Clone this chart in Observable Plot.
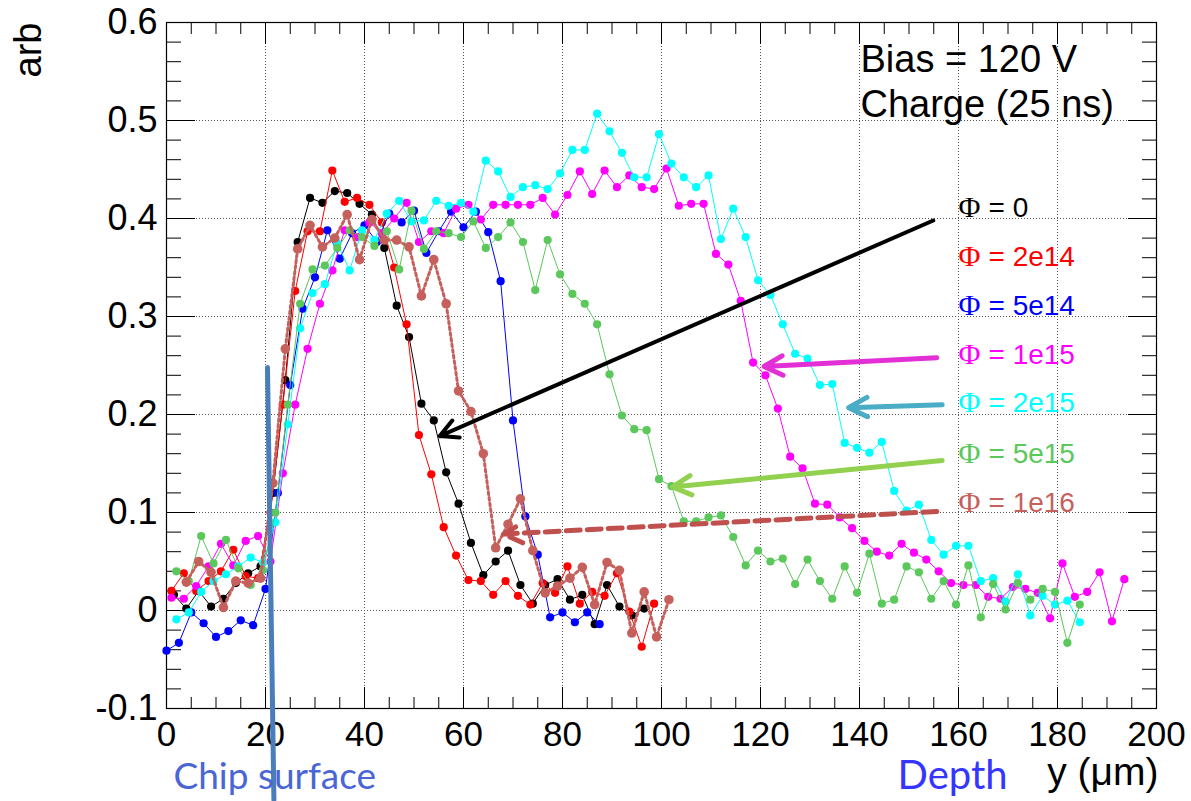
<!DOCTYPE html>
<html>
<head>
<meta charset="utf-8">
<script src="https://cdn.jsdelivr.net/npm/d3@7"></script>
<script src="https://cdn.jsdelivr.net/npm/@observablehq/plot@0.6"></script>
<style>
  body { margin: 0; background: #fff; }
  svg { display: block; }
</style>
</head>
<body>
<div id="chart"></div>
<script>
// Charge profiles vs depth, one list of [depth (µm), charge (arb)] per fluence
const phi0 = [[1.5,0.016],[4,0.002],[6.5,0.020],[9,0.004],[11.5,0.012],[14,0.028],[16.5,0.038],[19,0.045],[21.5,0.12],[24,0.235],[26.5,0.376],[29,0.421],[31.5,0.416],[34,0.428],[36.5,0.426],[39,0.415],[41.5,0.404],[44,0.37],[46.5,0.311],[49,0.279],[51.5,0.211],[54,0.194],[56.5,0.141],[59,0.109],[61.5,0.069],[64,0.036],[66.5,0.050],[69,0.061],[71.5,0.026],[74,0.007],[76.5,0.026],[79,0.032],[81.5,0.011],[84,0.016],[86.5,-0.014],[89,0.026],[91.5,0.004],[94,-0.005],[96.5,0.002]];

const phi2e14 = [[1,0.020],[3.5,0.038],[6,0.020],[8.5,0.030],[11,0.040],[13.5,0.062],[16,0.035],[18.5,0.033],[21,0.10],[23.5,0.21],[26,0.326],[28.5,0.387],[31,0.387],[33.5,0.449],[36,0.417],[38.5,0.421],[41,0.414],[43.5,0.396],[46,0.350],[48.5,0.292],[51,0.179],[53.5,0.139],[56,0.085],[58.5,0.056],[61,0.031],[63.5,0.030],[66,0.016],[68.5,0.030],[71,0.015],[73.5,0.006],[76,0.028],[78.5,0.018],[81,0.045],[83.5,0.007],[86,0.019],[88.5,0.015],[91,0.038],[93.5,-0.001],[96,-0.037],[98.5,0.007]];

const phi5e14 = [[0,-0.041],[2.5,-0.033],[5,-0.002],[7.5,-0.013],[10,-0.027],[12.5,-0.021],[15,-0.010],[17.5,-0.015],[20,0.022],[22.5,0.12],[25,0.23],[27.5,0.308],[30,0.340],[32.5,0.388],[35,0.359],[37.5,0.385],[40,0.393],[42.5,0.376],[45,0.405],[47.5,0.396],[50,0.408],[52.5,0.365],[55,0.387],[57.5,0.407],[60,0.391],[62.5,0.407],[65,0.386],[67.5,0.336],[70,0.194],[72.5,0.096],[75,0.057],[77.5,-0.007],[80,-0.002],[82.5,-0.012],[85,-0.002],[87.5,-0.014]];

const phi1e15 = [[1,0.013],[3.5,0.012],[6,0.025],[8.5,0.045],[11,0.068],[13.5,0.046],[16,0.071],[18.5,0.076],[21,0.050],[23.5,0.14],[26,0.21],[28.5,0.267],[31,0.313],[33.5,0.347],[36,0.388],[38.5,0.381],[41,0.396],[43.5,0.385],[46,0.40],[48.5,0.416],[51,0.376],[53.5,0.387],[56,0.385],[58.5,0.410],[61,0.414],[63.5,0.399],[66,0.414],[68.5,0.414],[71,0.414],[73.5,0.414],[76,0.421],[78.5,0.404],[81,0.424],[83.5,0.448],[86,0.425],[88.5,0.449],[91,0.432],[93.5,0.444],[96,0.432],[98.5,0.430],[101,0.451],[103.5,0.413],[106,0.415],[108.5,0.415],[111,0.364],[113.5,0.353],[116,0.316],[118.5,0.253],[121,0.240],[123.5,0.206],[126,0.157],[128.5,0.145],[131,0.109],[133.5,0.108],[136,0.095],[138.5,0.084],[141,0.071],[143.5,0.060],[146,0.056],[148.5,0.068],[151,0.059],[153.5,0.052],[156,0.040],[158.5,0.028],[161,0.026],[163.5,0.026],[166,0.014],[168.5,0.012],[171,0.024],[173.5,0.022],[176,0.018],[178.5,-0.008],[181,0.048],[183.5,0.014],[186,0.019],[188.5,0.039],[191,-0.011],[193.5,0.032]];

const phi2e15 = [[2,-0.009],[4.5,-0.002],[7,0.019],[9.5,0.030],[12,0.037],[14.5,0.045],[17,0.054],[19.5,0.049],[22,0.090],[24.5,0.19],[27,0.288],[29.5,0.324],[32,0.333],[34.5,0.375],[37,0.347],[39.5,0.388],[42,0.378],[44.5,0.405],[47,0.418],[49.5,0.397],[52,0.398],[54.5,0.418],[57,0.413],[59.5,0.416],[62,0.407],[64.5,0.459],[67,0.448],[69.5,0.422],[72,0.432],[74.5,0.434],[77,0.430],[79.5,0.446],[82,0.470],[84.5,0.470],[87,0.507],[89.5,0.489],[92,0.467],[94.5,0.442],[97,0.442],[99.5,0.486],[102,0.456],[104.5,0.442],[107,0.432],[109.5,0.444],[112,0.379],[114.5,0.410],[117,0.381],[119.5,0.337],[122,0.322],[124.5,0.292],[127,0.262],[129.5,0.257],[132,0.230],[134.5,0.231],[137,0.171],[139.5,0.166],[142,0.161],[144.5,0.172],[147,0.122],[149.5,0.102],[152,0.108],[154.5,0.072],[157,0.057],[159.5,0.066],[162,0.066],[164.5,0.030],[167,0.033],[169.5,0.009],[172,0.037],[174.5,-0.005],[177,0.015],[179.5,0.006],[182,0.010],[184.5,-0.012]];

const phi5e15 = [[2,0.040],[4.5,0.030],[7,0.076],[9.5,0.048],[12,0.072],[14.5,0.043],[17,0.026],[19.5,0.041],[22,0.10],[24.5,0.21],[27,0.313],[29.5,0.348],[32,0.352],[34.5,0.370],[37,0.388],[39.5,0.381],[42,0.372],[44.5,0.387],[47,0.348],[49.5,0.408],[52,0.369],[54.5,0.387],[57,0.385],[59.5,0.381],[62,0.397],[64.5,0.370],[67,0.381],[69.5,0.396],[72,0.376],[74.5,0.327],[77,0.378],[79.5,0.343],[82,0.323],[84.5,0.313],[87,0.292],[89.5,0.241],[92,0.199],[94.5,0.185],[97,0.184],[99.5,0.134],[102,0.127],[104.5,0.091],[107,0.091],[109.5,0.095],[112,0.097],[114.5,0.075],[117,0.046],[119.5,0.061],[122,0.050],[124.5,0.053],[127,0.027],[129.5,0.052],[132,0.030],[134.5,0.012],[137,0.045],[139.5,0.018],[142,0.058],[144.5,0.007],[147,0.011],[149.5,0.045],[152,0.039],[154.5,0.012],[157,0.030],[159.5,0.006],[162,0.046],[164.5,-0.007],[167,0.027],[169.5,0.001],[172,0.028],[174.5,0.011],[177,0.022],[179.5,0.019],[182,-0.033],[184.5,0.006]];

const phi1e16 = [[4,0.029],[6.5,0.050],[9,0.039],[11.5,0.003],[14,0.030],[16.5,0.028],[19,0.033],[21.5,0.13],[24,0.267],[26.5,0.369],[29,0.393],[31.5,0.371],[34,0.38],[36.5,0.404],[39,0.358],[41.5,0.399],[44,0.378],[46.5,0.378],[49,0.371],[51.5,0.321],[54,0.358],[56.5,0.313],[59,0.224],[61.5,0.203],[64,0.160],[66.5,0.064],[69,0.088],[71.5,0.114],[74,0.061],[76.5,0.018],[79,0.025],[81.5,0.033],[84,0.044],[86.5,0.006],[89,0.049],[91.5,0.041],[94,-0.023],[96.5,0.019],[99,-0.027],[101.5,0.011]];

// Fluence labels, colours and where each label sits (depth, arb)
const fluences = ["0", "2e14", "5e14", "1e15", "2e15", "5e15", "1e16"];
const colors = ["#000000", "#ff0000", "#0000ff", "#ff00ff", "#00ffff", "#5ac85a", "#c6605c"];
const legendX = 160;
const legendY = [0.411, 0.361, 0.311, 0.261, 0.212, 0.160, 0.110];

// Annotation arrows: [x1, y1, x2, y2] in data units, pointing at each curve
const arrowPhi0 = [154.9, 0.398, 55.2, 0.178];
const arrowPhi1e15 = [155.6, 0.258, 120.7, 0.249];
const arrowPhi2e15 = [156.7, 0.210, 137.8, 0.207];
const arrowPhi5e15 = [156.7, 0.153, 102.2, 0.126];
const arrowPhi1e16 = [155.6, 0.101, 68.1, 0.078];

// Chip surface marker line
const chipSurface = [[20.4, 0.248], [21.7, -0.193]];

// Axis ticks
const xMajor = [0, 20, 40, 60, 80, 100, 120, 140, 160, 180, 200];
const xMinor = d3.range(0, 201, 5);
const yMajor = [-0.1, 0, 0.1, 0.2, 0.3, 0.4, 0.5, 0.6];
const yMinor = d3.range(0, 36).map(i => -0.1 + i * 0.02);

const seriesData = [phi0, phi2e14, phi5e14, phi1e15, phi2e15, phi5e15, phi1e16];
const series = seriesData.map((pts, i) => ({pts, color: colors[i], label: fluences[i]}));

const fx = d => d[0], fy = d => d[1];
const sans = "'Liberation Sans', Arial, Helvetica, sans-serif";
const slide = "Lato, 'Open Sans', sans-serif";

const curveMarks = series.flatMap((s, i) => {
  const last = i === series.length - 1;
  return [
    Plot.line(s.pts, {x: fx, y: fy, stroke: s.color,
      strokeWidth: last ? 3 : 1, strokeDasharray: last ? "2.7,3" : null}),
    Plot.dot(s.pts, {x: fx, y: fy, fill: s.color, r: last ? 4.8 : 4.1})
  ];
});

const arrowRows = [
  {a: arrowPhi0, color: "#000000", w: 4, dash: null, head: 7.5},
  {a: arrowPhi1e15, color: "#e22fd6", w: 5, dash: null, head: 6.3},
  {a: arrowPhi2e15, color: "#4bacc6", w: 5, dash: null, head: 6.3},
  {a: arrowPhi5e15, color: "#92d050", w: 5, dash: null, head: 6.3},
  {a: arrowPhi1e16, color: "#c0504d", w: 5, dash: "14,7", head: 6.3}
];
const arrowMarks = arrowRows.map(r => Plot.arrow([r.a], {
  x1: d => d[0], y1: d => d[1], x2: d => d[2], y2: d => d[3],
  stroke: r.color, strokeWidth: r.w, strokeDasharray: r.dash,
  headLength: r.head, headAngle: 55
}));

const legendRows = series.map((s, i) => ({...s, y: legendY[i]}));

const chart = Plot.plot({
  width: 1191,
  height: 801,
  marginLeft: 166,
  marginRight: 35,
  marginTop: 22,
  marginBottom: 93,
  x: {domain: [0, 200]},
  y: {domain: [-0.1, 0.6]},
  style: {fontFamily: sans, background: "#fff", color: "#000", overflow: "visible"},
  marks: [
    Plot.gridX(xMajor, {stroke: "#555", strokeOpacity: 1, strokeDasharray: "1,2"}),
    Plot.gridY(yMajor, {stroke: "#555", strokeOpacity: 1, strokeDasharray: "1,2"}),
    // inward ticks on all four sides
    Plot.axisX({anchor: "bottom", ticks: xMinor, tickSize: -11, tickFormat: () => "", label: null}),
    Plot.axisX({anchor: "bottom", ticks: xMajor, tickSize: -21, tickFormat: () => "", label: null}),
    Plot.axisX({anchor: "top", ticks: xMinor, tickSize: -11, tickFormat: () => "", label: null}),
    Plot.axisX({anchor: "top", ticks: xMajor, tickSize: -21, tickFormat: () => "", label: null}),
    Plot.axisY({anchor: "left", ticks: yMinor, tickSize: -15, tickFormat: () => "", label: null}),
    Plot.axisY({anchor: "left", ticks: yMajor, tickSize: -29, tickFormat: () => "", label: null}),
    Plot.axisY({anchor: "right", ticks: yMinor, tickSize: -15, tickFormat: () => "", label: null}),
    Plot.axisY({anchor: "right", ticks: yMajor, tickSize: -29, tickFormat: () => "", label: null}),
    // tick labels
    Plot.axisX({anchor: "bottom", ticks: xMajor, tickSize: 0, tickPadding: 13, fontSize: 35, label: null,
      tickFormat: d => String(d)}),
    Plot.axisY({anchor: "left", ticks: yMajor, tickSize: 0, tickPadding: 9, fontSize: 36, label: null,
      tickFormat: d => Math.abs(d) < 1e-9 ? "0" : d.toFixed(1)}),
    Plot.frame({stroke: "#000", strokeWidth: 1.2}),
    ...curveMarks,
    Plot.line(chipSurface, {x: fx, y: fy, stroke: "#4a7ebb", strokeWidth: 5}),
    ...arrowMarks,
    // legend: Φ in a serif face, the value in sans
    Plot.text(legendRows, {x: legendX, y: "y", text: () => "Φ", fill: "color",
      fontFamily: "'Liberation Serif', 'DejaVu Serif', serif", fontSize: 30, textAnchor: "start"}),
    Plot.text(legendRows, {x: legendX, y: "y", text: d => "= " + d.label, fill: "color",
      fontSize: 28, textAnchor: "start", dx: 30}),
    // run conditions
    Plot.text(["Bias = 120 V", "Charge (25 ns)"], {x: 140.2, y: [0.562, 0.516], text: d => d,
      fontSize: 38, textAnchor: "start"}),
    // axis titles
    Plot.text(["arb"], {frameAnchor: "top-left", text: d => d, rotate: -90, textAnchor: "end",
      fontSize: 38, dx: -152, dy: 0}),
    Plot.text(["y (μm)"], {frameAnchor: "bottom-right", text: d => d, textAnchor: "end",
      fontSize: 39, dx: 2, dy: 76}),
    Plot.text(["Depth"], {x: 158.8, frameAnchor: "bottom", text: d => d, fill: "#3535ff",
      fontFamily: slide, fontSize: 40, dy: 80}),
    Plot.text(["Chip surface"], {x: 1.4, frameAnchor: "bottom", text: d => d, fill: "#4a66d6",
      fontFamily: slide, fontSize: 37, textAnchor: "start", dy: 80})
  ]
});

document.getElementById("chart").appendChild(chart);
</script>
</body>
</html>
